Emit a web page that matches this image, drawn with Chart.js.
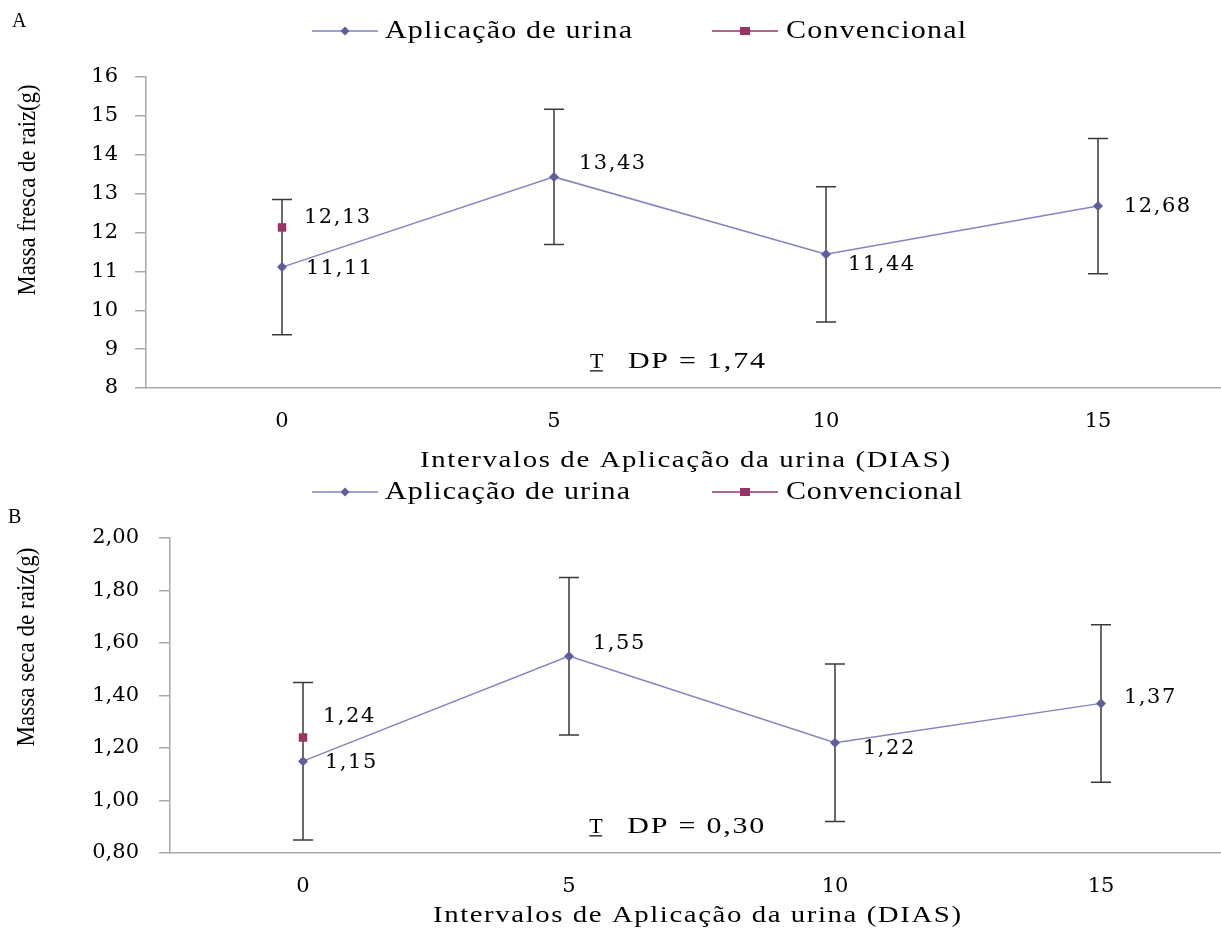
<!DOCTYPE html>
<html>
<head>
<meta charset="utf-8">
<script src="https://cdn.jsdelivr.net/npm/chart.js@4.4.1/dist/chart.umd.min.js"></script>
<style>
  html, body { margin: 0; padding: 0; background: #fff; overflow: hidden; width: 1221px; height: 933px; }
  .painel { position: absolute; left: 0; width: 1240px; }
  #pA { top: 0; height: 480px; }
  #pB { top: 466px; height: 467px; }
</style>
</head>
<body>
<div class="painel" id="pA"><canvas id="cA" width="1240" height="480"></canvas></div>
<div class="painel" id="pB"><canvas id="cB" width="1240" height="467"></canvas></div>
<script>
// Intervalos de aplicação (dias)
const dias = ['0', '5', '10', '15'];

// A - massa fresca da raiz (g)
const urinaFresca = [11.11, 13.43, 11.44, 12.68];
const convFresca = [12.13, null, null, null];
const dpFresca = 1.74;
const limitesFresca = [8, 16, 1];

// B - massa seca da raiz (g)
const urinaSeca = [1.15, 1.55, 1.22, 1.37];
const convSeca = [1.24, null, null, null];
const dpSeca = 0.30;
const limitesSeca = [0.8, 2.0, 0.2];

const nomeUrina = 'Aplicação de urina';
const nomeConv = 'Convencional';
const tituloX = 'Intervalos de Aplicação da urina (DIAS)';

const corLinha = '#8383c0';
const corPonto = '#5e5e9c';
const corConv = '#993366';
const corEixo = '#a9a9a9';
const serif = '"Liberation Serif", "Times New Roman", serif';
const numFont = '"DejaVu Serif", serif';

const virgula = v => v.toFixed(2).replace('.', ',');

// text widened to a given width: a little horizontal stretch, the rest as letter spacing
function textoLargo(ctx, s, x, y, font, largura, escalaMax) {
  ctx.save();
  ctx.font = font;
  ctx.letterSpacing = '0px';
  const w = ctx.measureText(s).width;
  const k = Math.min(escalaMax || 1.2, largura / w);
  const esp = Math.max(0, (largura - w * k) / Math.max(1, s.length - 1) / k);
  ctx.translate(x, y);
  ctx.scale(k, 1);
  ctx.letterSpacing = esp + 'px';
  ctx.textAlign = 'left';
  ctx.textBaseline = 'middle';
  ctx.fillStyle = '#000';
  ctx.fillText(s, 0, 0);
  ctx.restore();
}

function texto(ctx, s, x, y, font, esp) {
  ctx.save();
  ctx.font = font;
  ctx.letterSpacing = (esp || 0) + 'px';
  ctx.textAlign = 'left';
  ctx.textBaseline = 'middle';
  ctx.fillStyle = '#000';
  ctx.fillText(s, x, y);
  ctx.restore();
}

function losango(ctx, x, y, r, cor) {
  ctx.beginPath();
  ctx.moveTo(x, y - r); ctx.lineTo(x + r, y); ctx.lineTo(x, y + r); ctx.lineTo(x - r, y);
  ctx.closePath(); ctx.fillStyle = cor; ctx.fill();
}

const painelPlugin = {
  id: 'painel',
  beforeDatasetsDraw(chart, args, o) {
    const ctx = chart.ctx, xs = chart.scales.x, ys = chart.scales.y;
    ctx.save();
    ctx.strokeStyle = '#3a3a3a';
    ctx.lineWidth = 1.5;
    o.serie.forEach((v, i) => {
      const x = xs.getPixelForValue(i);
      const yt = ys.getPixelForValue(v + o.desvio);
      const yb = ys.getPixelForValue(v - o.desvio);
      ctx.beginPath();
      ctx.moveTo(x, yt); ctx.lineTo(x, yb);
      ctx.moveTo(x - 10, yt); ctx.lineTo(x + 10, yt);
      ctx.moveTo(x - 10, yb); ctx.lineTo(x + 10, yb);
      ctx.stroke();
    });
    ctx.restore();
  },
  afterDraw(chart, args, o) {
    const ctx = chart.ctx, xs = chart.scales.x, ys = chart.scales.y, a = chart.chartArea;

    // value labels
    const rotulo = (v, i, d) => {
      const x = xs.getPixelForValue(i) + d[0];
      const y = ys.getPixelForValue(v) + d[1];
      texto(ctx, virgula(v), x, y, '21px ' + numFont, 1.5);
    };
    o.serie.forEach((v, i) => rotulo(v, i, o.desloc[i]));
    o.conv.forEach((v, i) => { if (v !== null) rotulo(v, i, o.deslocConv); });

    // panel letter
    texto(ctx, o.letra, o.letraPos[0], o.letraPos[1], '20px ' + serif, 0);

    // y title, compressed along the axis
    ctx.save();
    ctx.font = '25px ' + serif;
    const wT = ctx.measureText(o.tituloY).width;
    ctx.translate(o.tituloYPos[0], o.tituloYPos[1]);
    ctx.rotate(-Math.PI / 2);
    ctx.scale(o.tituloYPos[2] / wT, 1);
    ctx.textAlign = 'center';
    ctx.textBaseline = 'middle';
    ctx.fillStyle = '#000';
    ctx.fillText(o.tituloY, 0, 0);
    ctx.restore();

    // x title
    const cx = (a.left + a.right) / 2;
    textoLargo(ctx, tituloX, cx - o.tituloXLarg / 2 - 5, a.bottom + o.tituloXDy, '24px ' + serif, o.tituloXLarg, 1.2);

    // legend
    const ly = o.legendaY;
    ctx.save();
    ctx.lineWidth = 1.5;
    ctx.strokeStyle = corLinha;
    ctx.beginPath(); ctx.moveTo(312, ly); ctx.lineTo(378, ly); ctx.stroke();
    losango(ctx, 345, ly, 4.5, corPonto);
    ctx.strokeStyle = corConv;
    ctx.beginPath(); ctx.moveTo(712, ly); ctx.lineTo(778, ly); ctx.stroke();
    ctx.fillStyle = corConv;
    ctx.fillRect(740, ly - 4, 10, 8);
    ctx.restore();
    textoLargo(ctx, nomeUrina, 385, ly, '25px ' + serif, o.legLarg[0], 1.2);
    textoLargo(ctx, nomeConv, 786, ly, '25px ' + serif, o.legLarg[1], 1.2);

    // standard deviation note
    const nx = a.left + o.notaPos[0] * (a.right - a.left);
    const ny = a.top + o.notaPos[1] * (a.bottom - a.top);
    texto(ctx, 'T', nx, ny, '22px ' + serif, 0);
    ctx.save();
    ctx.strokeStyle = '#000'; ctx.lineWidth = 1.2;
    ctx.beginPath(); ctx.moveTo(nx, ny + 9); ctx.lineTo(nx + 13, ny + 9); ctx.stroke();
    ctx.restore();
    textoLargo(ctx, 'DP = ' + virgula(o.desvio), nx + 38, ny, '24px ' + serif, 137, 1.25);
  }
};

function grafico(id, urina, conv, limites, cfg) {
  return new Chart(document.getElementById(id), {
    type: 'line',
    data: {
      labels: dias,
      datasets: [
        {
          label: nomeUrina, data: urina,
          borderColor: corLinha, borderWidth: 1.5, backgroundColor: corPonto,
          pointStyle: 'rectRot', pointRadius: 5, pointBackgroundColor: corPonto,
          pointBorderColor: corPonto, pointBorderWidth: 0, tension: 0
        },
        {
          label: nomeConv, data: conv,
          borderColor: corConv, borderWidth: 1.5, backgroundColor: corConv,
          pointStyle: 'rect', pointRadius: 6, pointBackgroundColor: corConv,
          pointBorderColor: corConv, pointBorderWidth: 0, showLine: false
        }
      ]
    },
    options: {
      responsive: false,
      animation: false,
      devicePixelRatio: 1,
      layout: { padding: { top: cfg.topo, right: 6, left: 0, bottom: 0 } },
      plugins: {
        legend: { display: false },
        tooltip: { enabled: false },
        painel: Object.assign({ serie: urina, conv: conv }, cfg)
      },
      scales: {
        x: {
          offset: true,
          grid: { display: false, drawTicks: false },
          border: { color: corEixo, width: 1.5 },
          ticks: { color: '#000', padding: 21, font: { family: numFont, size: 21 } },
          afterFit: s => { s.height = cfg.alturaX; }
        },
        y: {
          min: limites[0], max: limites[1],
          grid: { drawOnChartArea: false, drawTicks: true, tickLength: 11, color: corEixo, lineWidth: 1.5 },
          border: { color: corEixo, width: 1.5 },
          ticks: {
            stepSize: limites[2], color: '#000', padding: cfg.padTick,
            font: { family: numFont, size: 21 },
            callback: v => cfg.fmtTick(v)
          },
          afterFit: s => { s.width = cfg.larguraY; }
        }
      }
    },
    plugins: [painelPlugin]
  });
}

grafico('cA', urinaFresca, convFresca, limitesFresca, {
  topo: 77, alturaX: 92, larguraY: 146, padTick: 17,
  fmtTick: v => String(Math.round(v)),
  desvio: dpFresca,
  desloc: [[24, 1], [25, -13], [22, 10], [26, 0]],
  deslocConv: [22, -10],
  letra: 'A', letraPos: [12, 22],
  tituloY: 'Massa fresca de raiz(g)', tituloYPos: [28, 190, 211],
  tituloXDy: 73, tituloXLarg: 530,
  legendaY: 31, legLarg: [247, 180],
  notaPos: [0.408, 0.916]
});

grafico('cB', urinaSeca, convSeca, limitesSeca, {
  topo: 72, alturaX: 80, larguraY: 170, padTick: 20,
  fmtTick: v => virgula(v),
  desvio: dpSeca,
  desloc: [[22, 1], [24, -13], [28, 6], [23, -6]],
  deslocConv: [20, -21],
  letra: 'B', letraPos: [8, 52],
  tituloY: 'Massa seca de raiz(g)', tituloYPos: [27, 181, 199],
  tituloXDy: 63, tituloXLarg: 528,
  legendaY: 26, legLarg: [245, 176],
  notaPos: [0.394, 0.917]
});
</script>
</body>
</html>
